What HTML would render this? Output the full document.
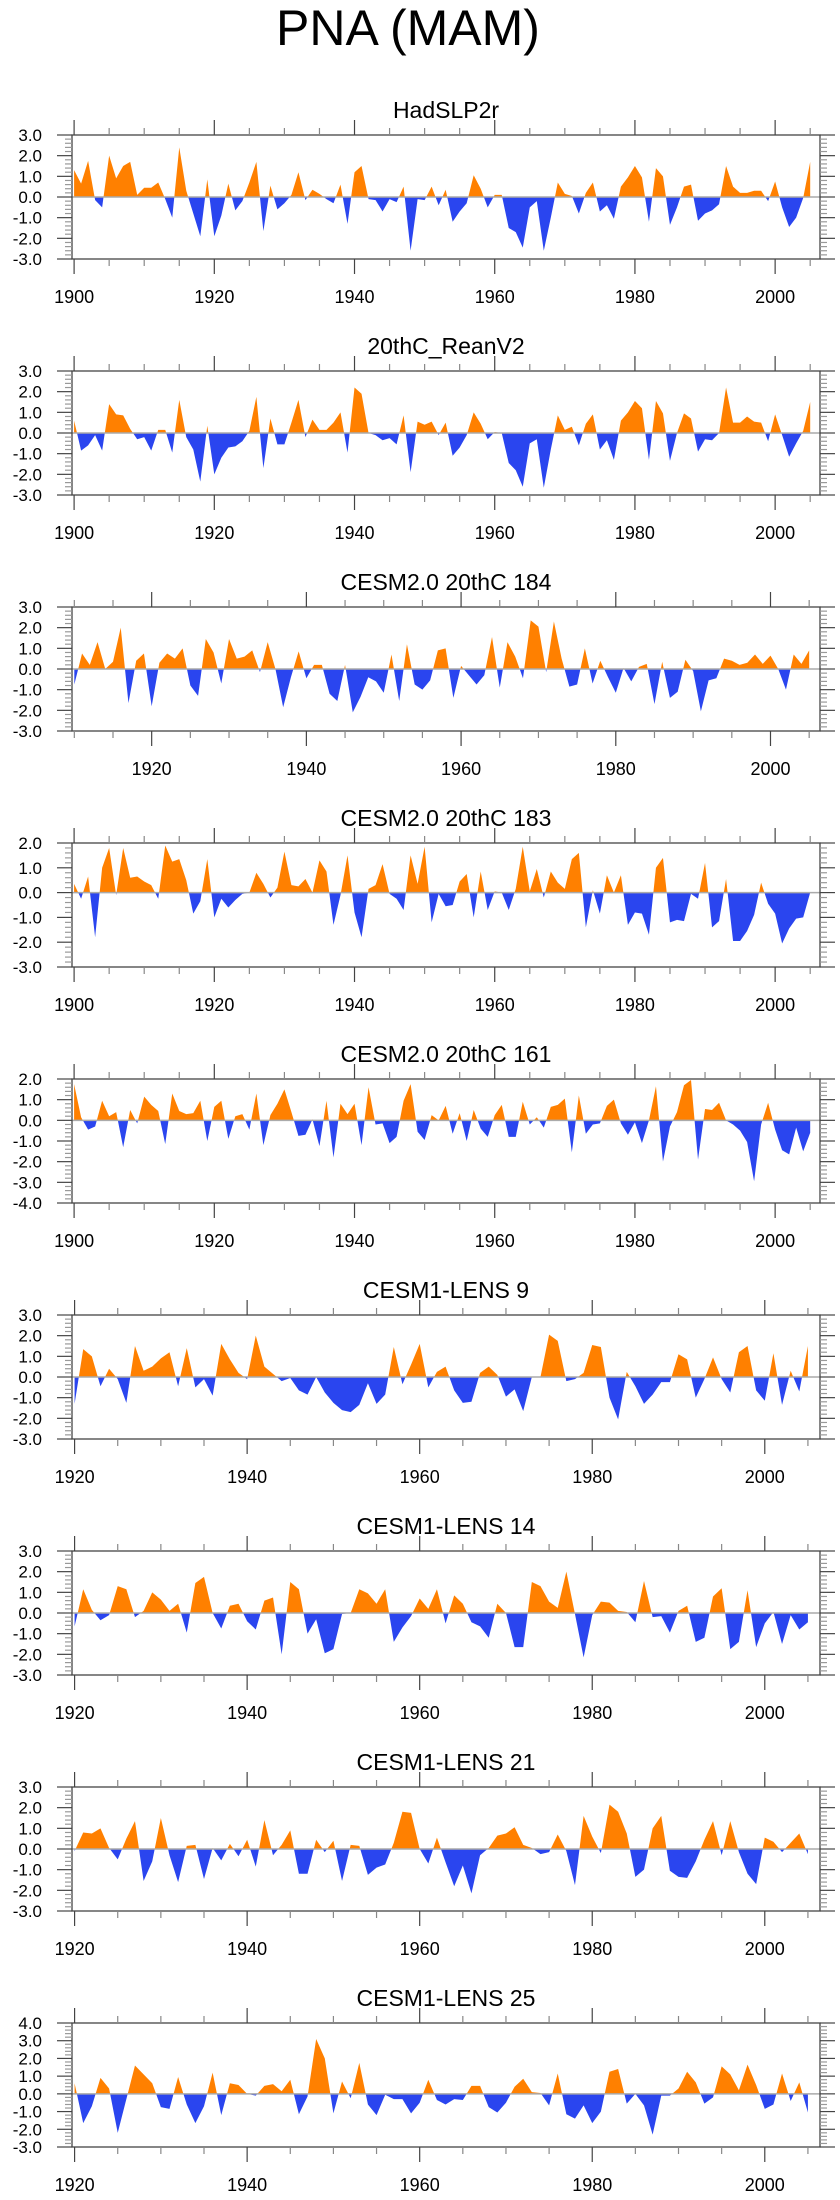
<!DOCTYPE html>
<html><head><meta charset="utf-8"><title>PNA (MAM)</title>
<style>
html,body{margin:0;padding:0;background:#fff;}
svg{display:block;font-family:"Liberation Sans",Arial,sans-serif;}
</style></head>
<body>
<svg id="chart" width="840" height="2200" viewBox="0 0 840 2200" xmlns="http://www.w3.org/2000/svg">
<text x="408" y="45" font-size="50" text-anchor="middle" fill="#000">PNA (MAM)</text>
</svg>
<script>
const titles=["HadSLP2r","20thC_ReanV2","CESM2.0 20thC 184","CESM2.0 20thC 183","CESM2.0 20thC 161","CESM1-LENS 9","CESM1-LENS 14","CESM1-LENS 21","CESM1-LENS 25"];
const startYears=[1900,1900,1910,1900,1900,1920,1920,1920,1920];
const yMins=[-3,-3,-3,-3,-4,-3,-3,-3,-3];
const yMaxs=[3,3,3,2,2,3,3,3,4];
const endYearAxis=2006.4;

const hadslp2r=[1.3,0.65,1.75,-0.15,-0.5,2.0,0.9,1.5,1.7,0.1,0.45,0.45,0.7,-0.1,-1.0,2.4,0.3,-0.8,-1.9,0.85,
-1.9,-0.9,0.65,-0.65,-0.2,0.7,1.7,-1.65,0.55,-0.6,-0.3,0.1,1.2,-0.15,0.35,0.15,-0.1,-0.3,0.6,-1.3,
1.2,1.5,-0.1,-0.15,-0.7,-0.1,-0.25,0.5,-2.6,-0.1,-0.15,0.5,-0.4,0.35,-1.2,-0.7,-0.3,1.05,0.4,-0.5,
0.1,0.1,-1.5,-1.7,-2.45,-0.5,-0.2,-2.6,-1.0,0.7,0.15,0.05,-0.8,0.2,0.7,-0.7,-0.4,-1.05,0.5,0.95,
1.5,0.95,-1.2,1.4,1.0,-1.35,-0.5,0.5,0.6,-1.15,-0.8,-0.65,-0.35,1.5,0.5,0.2,0.2,0.3,0.3,-0.2,
0.75,-0.5,-1.45,-1.0,-0.05,1.7];
const reanV2=[0.6,-0.85,-0.6,-0.1,-0.85,1.4,0.9,0.85,0.2,-0.3,-0.2,-0.85,0.15,0.15,-0.95,1.6,-0.2,-0.8,-2.35,0.35,
-2.0,-1.2,-0.7,-0.65,-0.4,0.1,1.75,-1.7,0.7,-0.55,-0.55,0.5,1.6,-0.2,0.65,0.15,0.15,0.5,1.0,-0.95,
2.2,1.9,0.0,-0.1,-0.35,-0.25,-0.55,0.85,-1.9,0.55,0.4,0.55,-0.1,0.5,-1.1,-0.7,-0.1,1.0,0.45,-0.3,
0.05,0.0,-1.45,-1.8,-2.6,-0.5,-0.3,-2.65,-0.8,0.85,0.15,0.3,-0.6,0.45,0.9,-0.8,-0.35,-1.3,0.6,1.0,
1.55,1.2,-1.3,1.55,0.95,-1.35,0.0,0.95,0.7,-0.9,-0.3,-0.35,0.0,2.2,0.5,0.5,0.8,0.55,0.5,-0.4,
0.9,-0.1,-1.15,-0.5,0.1,1.5];
const cesm2_184=[-0.75,0.75,0.2,1.3,0.0,0.35,2.0,-1.65,0.4,0.75,
-1.8,0.3,0.75,0.5,1.0,-0.8,-1.3,1.45,0.8,-0.7,1.45,0.5,0.6,0.9,-0.15,1.3,0.0,-1.85,-0.4,0.85,
-0.45,0.2,0.2,-1.2,-1.55,0.2,-2.1,-1.35,-0.4,-0.6,-1.15,0.7,-1.55,1.2,-0.75,-1.0,-0.55,0.9,1.0,-1.4,
0.15,-0.3,-0.75,-0.3,1.55,-0.9,1.3,0.6,-0.45,2.35,2.05,-0.15,2.3,0.5,-0.85,-0.75,1.0,-0.7,0.4,-0.4,
-1.15,0.05,-0.6,0.1,0.25,-1.7,0.35,-1.4,-1.1,0.45,-0.1,-2.05,-0.55,-0.45,0.5,0.4,0.2,0.3,0.7,0.25,
0.65,0.0,-1.0,0.7,0.25,0.9];
const cesm2_183=[0.35,-0.25,0.65,-1.8,1.0,1.8,-0.1,1.8,0.6,0.65,0.45,0.3,-0.25,1.9,1.25,1.35,0.5,-0.85,-0.35,1.35,
-1.0,-0.25,-0.6,-0.3,-0.05,0.0,0.8,0.35,-0.2,0.2,1.65,0.3,0.25,0.55,0.0,1.3,0.85,-1.3,-0.1,1.5,
-0.8,-1.8,0.15,0.3,1.15,-0.05,-0.25,-0.7,1.5,0.35,1.85,-1.2,-0.05,-0.55,-0.5,0.45,0.75,-1.0,0.85,-0.7,
0.05,0.0,-0.7,0.15,1.85,0.05,0.95,-0.2,0.85,0.4,0.15,1.35,1.6,-1.4,0.1,-0.85,0.7,0.0,0.7,-1.3,
-0.8,-0.85,-1.7,1.0,1.4,-1.2,-1.1,-1.15,-0.05,-0.25,1.2,-1.4,-1.15,0.55,-1.95,-1.95,-1.55,-0.9,0.4,-0.45,
-0.85,-2.05,-1.45,-1.05,-1.0,0.0];
const cesm2_161=[1.75,0.15,-0.45,-0.3,0.95,0.2,0.4,-1.3,0.5,-0.15,1.15,0.75,0.45,-1.15,1.3,0.45,0.3,0.35,0.95,-1.0,
0.65,0.95,-0.9,0.2,0.3,-0.45,1.3,-1.2,0.25,0.8,1.5,0.4,-0.75,-0.7,0.05,-1.25,0.95,-1.8,0.8,0.3,
0.8,-1.2,1.6,-0.2,-0.15,-1.1,-0.8,0.95,1.75,-0.55,-0.95,0.25,0.0,0.7,-0.65,0.35,-1.0,0.5,-0.4,-0.8,
0.25,0.75,-0.8,-0.8,0.9,-0.2,0.15,-0.35,0.65,0.75,1.05,-1.55,1.2,-0.65,-0.2,-0.15,0.7,1.0,-0.15,-0.7,
-0.1,-1.1,0.0,1.65,-2.0,-0.3,0.4,1.7,1.95,-1.9,0.55,0.5,0.85,0.0,-0.2,-0.5,-1.05,-2.95,-0.2,0.85,
-0.45,-1.45,-1.65,-0.35,-1.5,-0.6];
const lens9=[-1.3,1.35,1.0,-0.45,0.4,-0.1,-1.25,1.5,0.3,0.5,0.9,1.2,-0.45,1.4,-0.5,-0.1,-0.9,1.6,0.85,0.2,
-0.1,2.0,0.5,0.15,-0.2,-0.05,-0.65,-0.85,0.0,-0.75,-1.25,-1.6,-1.7,-1.35,-0.3,-1.3,-0.85,1.45,-0.35,0.6,
1.6,-0.5,0.25,0.5,-0.65,-1.25,-1.2,0.2,0.5,0.1,-0.95,-0.6,-1.65,0.0,0.0,2.05,1.75,-0.2,-0.1,0.2,
1.55,1.45,-1.0,-2.05,0.25,-0.45,-1.3,-0.85,-0.25,-0.25,1.1,0.85,-1.0,-0.1,0.95,-0.1,-0.75,1.2,1.5,-0.65,
-1.15,1.15,-1.35,0.3,-0.7,1.5];
const lens14=[-0.65,1.15,0.15,-0.35,-0.1,1.3,1.15,-0.2,0.1,1.0,0.65,0.1,0.45,-0.95,1.45,1.75,0.0,-0.75,0.35,0.45,
-0.4,-0.8,0.6,0.75,-2.0,1.5,1.15,-1.0,-0.3,-1.95,-1.75,-0.05,0.0,1.15,0.95,0.45,1.15,-1.4,-0.7,-0.15,
0.7,0.2,1.15,-0.5,0.85,0.45,-0.45,-0.65,-1.2,0.45,0.0,-1.65,-1.65,1.5,1.3,0.55,0.25,2.0,-0.05,-2.15,
-0.1,0.55,0.5,0.1,0.05,-0.45,1.55,-0.2,-0.15,-0.95,0.1,0.35,-1.4,-1.2,0.8,1.2,-1.75,-1.4,1.1,-1.65,
-0.5,0.05,-1.5,-0.1,-0.8,-0.45];
const lens21=[-0.1,0.8,0.75,1.0,0.05,-0.5,0.5,1.35,-1.55,-0.6,1.5,-0.3,-1.6,0.15,0.2,-1.45,0.05,-0.55,0.25,-0.35,
0.45,-0.85,1.4,-0.3,0.2,0.9,-1.2,-1.2,0.45,-0.15,0.4,-1.55,0.2,0.15,-1.25,-0.9,-0.75,0.3,1.8,1.75,
0.0,-0.7,0.55,-0.65,-1.8,-0.8,-2.15,-0.3,0.05,0.65,0.75,1.05,0.2,0.05,-0.25,-0.15,0.7,-0.1,-1.75,1.6,
0.6,-0.2,2.15,1.8,0.75,-1.35,-1.0,1.0,1.6,-1.05,-1.35,-1.4,-0.6,0.45,1.35,-0.3,1.35,-0.15,-1.2,-1.7,
0.55,0.35,-0.15,0.3,0.75,-0.25];
const lens25=[0.6,-1.65,-0.7,0.9,0.3,-2.2,-0.3,1.6,1.1,0.6,-0.75,-0.85,0.95,-0.6,-1.65,-0.7,1.2,-1.2,0.6,0.5,
0.0,-0.1,0.45,0.55,0.15,0.8,-1.15,-0.15,3.1,2.0,-1.1,0.7,-0.25,1.75,-0.6,-1.2,-0.05,-0.3,-0.3,-1.1,
-0.5,0.8,-0.35,-0.6,-0.3,-0.35,0.45,0.45,-0.75,-1.05,-0.5,0.4,0.85,0.1,0.05,-0.65,1.15,-1.15,-1.4,-0.65,
-1.65,-1.0,1.25,1.4,-0.55,0.0,-0.65,-2.3,-0.1,-0.1,0.3,1.25,0.65,-0.55,-0.2,1.55,1.1,0.2,1.65,0.5,
-0.85,-0.6,1.15,-0.4,0.65,-1.05];
const seriesList=[hadslp2r,reanV2,cesm2_184,cesm2_183,cesm2_161,lens9,lens14,lens21,lens25];

const NS="http://www.w3.org/2000/svg";
const svg=document.getElementById('chart');
const L=72,R=820,H=124,TOP0=135,STEP=236;
const ORANGE="#ff8000",BLUE="#2a45ef",AX="#444";
function mk(tag,attrs,parent){const e=document.createElementNS(NS,tag);for(const k in attrs)e.setAttribute(k,attrs[k]);(parent||svg).appendChild(e);return e;}

seriesList.forEach((vals,p)=>{
  const T=TOP0+STEP*p,B=T+H;
  const start=startYears[p],ymin=yMins[p],ymax=yMaxs[p];
  const x0=start-0.3;
  const xs=yr=>L+(yr-x0)/(endYearAxis-x0)*(R-L);
  const ys=v=>B-(v-ymin)/(ymax-ymin)*H;
  const g=mk('g',{});
  
  
  const t=mk('text',{x:(L+R)/2,y:T-17,'font-size':23,'text-anchor':'middle',fill:'#000'},g);
  
  
  t.textContent=titles[p];
  // fill
  const y0=ys(0);
  let d='M'+xs(start).toFixed(2)+','+y0.toFixed(2);
  vals.forEach((v,i)=>{d+=' L'+xs(start+i).toFixed(2)+','+ys(v).toFixed(2);});
  d+=' L'+xs(start+vals.length-1).toFixed(2)+','+y0.toFixed(2)+' Z';
  const cidA='ca'+p,cidB='cb'+p;
  const defs=mk('defs',{},g);
  const ca=mk('clipPath',{id:cidA},defs);mk('rect',{x:L,y:T,width:R-L,height:y0-T},ca);
  const cb=mk('clipPath',{id:cidB},defs);mk('rect',{x:L,y:y0,width:R-L,height:B-y0},cb);
  const pa=mk('path',{d:d,fill:ORANGE,'clip-path':'url(#'+cidA+')'},g);
  
  
  const pb=mk('path',{d:d,fill:BLUE,'clip-path':'url(#'+cidB+')'},g);
  
  
  const zl=mk('line',{x1:L,x2:R,y1:y0,y2:y0,stroke:'#aaa','stroke-width':1.5},g);
  
  
  // box
  const bx=mk('rect',{x:L,y:T,width:R-L,height:H,fill:'none',stroke:AX,'stroke-width':1.3},g);
  
  
  // x ticks
  for(let yr=Math.ceil(start/5)*5;yr<=2005;yr+=5){
    const x=xs(yr),major=yr%20===0,len=major?15:7;
    mk('line',{x1:x,x2:x,y1:B,y2:B+len,stroke:major?AX:'#888','stroke-width':1.2},g);
    mk('line',{x1:x,x2:x,y1:T,y2:T-len,stroke:major?AX:'#888','stroke-width':1.2},g);
    if(major){
      const lb=mk('text',{x:x,y:B+44,'font-size':18,'text-anchor':'middle',fill:'#000'},g);
      
      
      lb.textContent=yr;
    }
  }
  // y ticks
  for(let k=Math.round(ymin*5);k<=Math.round(ymax*5);k++){
    const v=k/5,y=ys(v),major=k%5===0,len=major?15:7;
    mk('line',{x1:L,x2:L-len,y1:y,y2:y,stroke:major?AX:'#999','stroke-width':1.2},g);
    mk('line',{x1:R,x2:R+len,y1:y,y2:y,stroke:major?AX:'#999','stroke-width':1.2},g);
    if(major){
      const lb=mk('text',{x:42,y:y+6,'font-size':17,'text-anchor':'end',fill:'#000'},g);
      
      
      lb.textContent=v.toFixed(1);
    }
  }
});
</script>
</body></html>
